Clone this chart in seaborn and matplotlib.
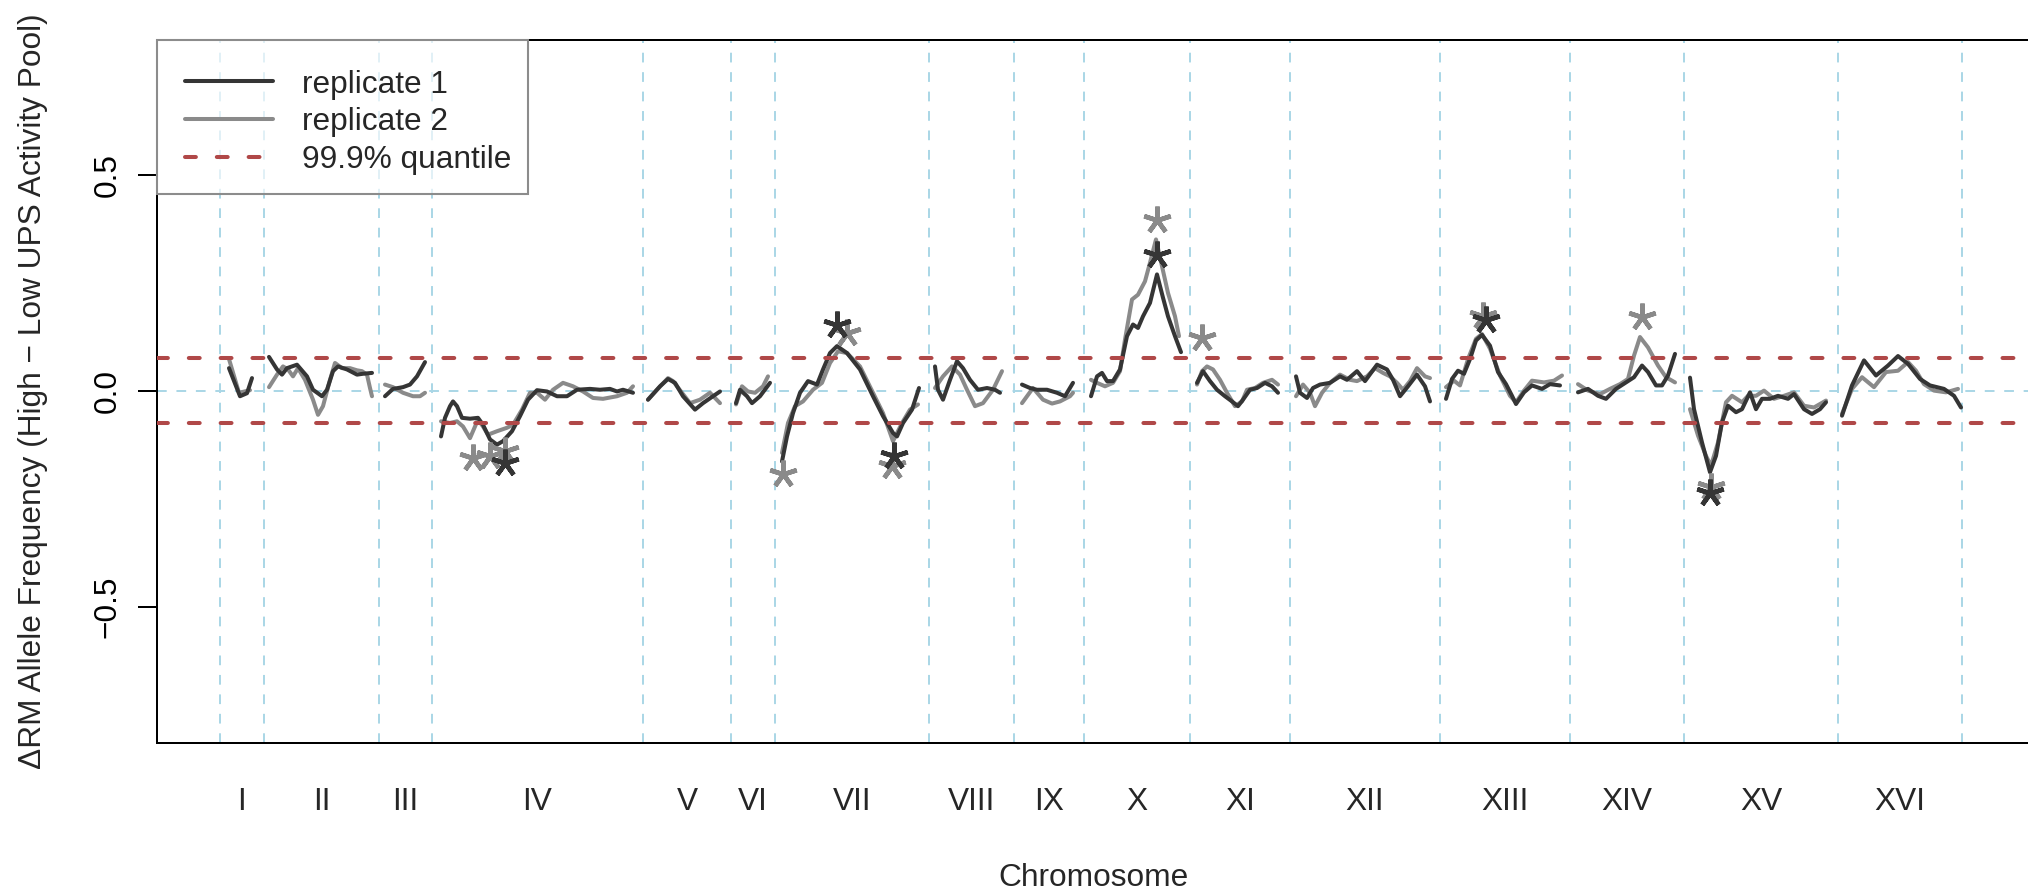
import matplotlib
matplotlib.use("Agg")
import matplotlib.pyplot as plt
from matplotlib.lines import Line2D
from matplotlib.patches import Rectangle
import pandas as pd
import seaborn as sns

# chromosome layout (genome position, same units as the curve positions)
chrom_names = ['I', 'II', 'III', 'IV', 'V', 'VI', 'VII', 'VIII', 'IX', 'X',
               'XI', 'XII', 'XIII', 'XIV', 'XV', 'XVI']
chrom_edges = [220, 264, 379, 432, 643, 731, 775, 929, 1014, 1084, 1190,
               1290, 1440, 1570, 1684, 1838, 1962]
quantile = 0.076

# replicate 1 (dark) -- positions and delta allele frequency per chromosome
rep1_pos = {
    'I': [229, 240, 247, 252],
    'II': [269, 277, 282, 287, 292, 297, 307, 313, 322, 327, 333, 338, 347, 357, 363, 372],
    'III': [385, 393, 403, 410, 417, 425],
    'IV': [441, 445, 450, 453, 457, 462, 470, 478, 483, 490, 497, 503, 512, 520, 528,
           537, 547, 557, 567, 577, 590, 600, 610, 617, 623, 633],
    'V': [648, 660, 668, 675, 683, 695, 703, 713, 720],
    'VI': [736, 740, 747, 752, 760, 770],
    'VII': [782, 787, 793, 800, 808, 817, 823, 830, 837, 847, 860, 873, 883, 893, 897,
            903, 912, 919],
    'VIII': [935, 938, 943, 950, 957, 963, 970, 978, 987, 995, 1000],
    'IX': [1022, 1030, 1037, 1047, 1057, 1065, 1073],
    'X': [1091, 1097, 1102, 1107, 1113, 1120, 1127, 1133, 1138, 1143, 1150, 1157, 1163,
          1168, 1175, 1181],
    'XI': [1197, 1203, 1210, 1217, 1225, 1232, 1238, 1243, 1250, 1257, 1265, 1272, 1278],
    'XII': [1296, 1300, 1307, 1313, 1320, 1330, 1340, 1347, 1357, 1365, 1377, 1387, 1393,
            1400, 1408, 1417, 1425, 1430],
    'XIII': [1446, 1452, 1458, 1464, 1470, 1476, 1482, 1490, 1498, 1506, 1512, 1516, 1524,
             1532, 1542, 1550, 1560],
    'XIV': [1578, 1588, 1598, 1606, 1616, 1626, 1634, 1642, 1648, 1656, 1662, 1668, 1675],
    'XV': [1690, 1694, 1702, 1710, 1716, 1722, 1728, 1736, 1742, 1750, 1756, 1762, 1770,
           1778, 1788, 1794, 1804, 1812, 1820, 1826],
    'XVI': [1842, 1852, 1864, 1876, 1888, 1898, 1908, 1920, 1930, 1944, 1954, 1961],
}
rep1_val = {
    'I': [0.052, -0.013, -0.006, 0.029],
    'II': [0.078, 0.049, 0.037, 0.052, 0.056, 0.060, 0.033, 0.002, -0.013, 0.002, 0.045,
           0.056, 0.049, 0.037, 0.039, 0.041],
    'III': [-0.013, 0.004, 0.008, 0.014, 0.033, 0.066],
    'IV': [-0.106, -0.063, -0.036, -0.025, -0.036, -0.063, -0.065, -0.063, -0.079, -0.113,
           -0.125, -0.117, -0.094, -0.059, -0.021, 0.001, -0.002, -0.013, -0.013, 0.002,
           0.004, 0.002, 0.004, -0.002, 0.002, -0.005],
    'V': [-0.021, 0.010, 0.027, 0.018, -0.013, -0.044, -0.029, -0.013, -0.002],
    'VI': [-0.029, 0.002, -0.013, -0.029, -0.013, 0.018],
    'VII': [-0.164, -0.106, -0.052, -0.005, 0.022, 0.014, 0.049, 0.087, 0.103, 0.087,
            0.049, -0.013, -0.059, -0.098, -0.106, -0.075, -0.044, 0.006],
    'VIII': [0.056, 0.002, -0.021, 0.025, 0.068, 0.052, 0.025, 0.002, 0.006, 0.002, -0.005],
    'IX': [0.014, 0.006, 0.002, 0.002, -0.005, -0.013, 0.018],
    'X': [-0.013, 0.033, 0.041, 0.022, 0.022, 0.049, 0.126, 0.153, 0.145, 0.172, 0.203,
          0.269, 0.215, 0.172, 0.126, 0.089],
    'XI': [0.018, 0.045, 0.022, 0.002, -0.013, -0.025, -0.036, -0.021, 0.002, 0.006,
           0.018, 0.010, -0.005],
    'XII': [0.033, -0.005, -0.017, 0.006, 0.014, 0.018, 0.033, 0.025, 0.045, 0.022, 0.060,
            0.049, 0.025, -0.013, 0.010, 0.037, 0.010, -0.025],
    'XIII': [-0.019, 0.027, 0.046, 0.039, 0.073, 0.116, 0.129, 0.104, 0.043, 0.015, -0.012,
             -0.031, -0.004, 0.012, 0.004, 0.015, 0.012],
    'XIV': [-0.004, 0.004, -0.012, -0.019, 0.004, 0.019, 0.031, 0.058, 0.043, 0.012,
            0.012, 0.035, 0.085],
    'XV': [0.030, -0.043, -0.120, -0.189, -0.151, -0.073, -0.035, -0.050, -0.043, -0.004,
           -0.043, -0.019, -0.019, -0.012, -0.019, -0.008, -0.043, -0.054, -0.043, -0.027],
    'XVI': [-0.058, 0.012, 0.070, 0.035, 0.058, 0.080, 0.062, 0.027, 0.012, 0.004, -0.012,
            -0.039],
}

# replicate 2 (grey)
rep2_pos = {
    'I': [229, 239, 250],
    'II': [269, 277, 283, 288, 293, 298, 305, 313, 318, 323, 330, 335, 342, 350, 357, 362,
           367, 370, 372],
    'III': [385, 393, 403, 413, 420, 425],
    'IV': [441, 450, 457, 463, 470, 478, 483, 488, 497, 507, 513, 522, 530, 537, 545, 553,
           563, 573, 583, 593, 603, 617, 627, 633],
    'V': [648, 657, 668, 673, 682, 690, 700, 710, 720],
    'VI': [736, 742, 748, 755, 763, 768],
    'VII': [782, 788, 795, 803, 813, 822, 830, 838, 847, 860, 873, 883, 893, 902, 910, 918],
    'VIII': [935, 943, 952, 960, 967, 975, 983, 993, 1002],
    'IX': [1022, 1033, 1043, 1052, 1060, 1070, 1073],
    'X': [1091, 1097, 1105, 1113, 1120, 1125, 1132, 1138, 1145, 1150, 1156, 1162, 1168,
          1175, 1179],
    'XI': [1197, 1202, 1207, 1213, 1220, 1227, 1235, 1242, 1247, 1255, 1263, 1272, 1278],
    'XII': [1296, 1303, 1310, 1315, 1322, 1330, 1340, 1350, 1357, 1367, 1375, 1383, 1390,
            1397, 1403, 1410, 1417, 1425, 1430],
    'XIII': [1446, 1454, 1460, 1468, 1476, 1482, 1490, 1500, 1510, 1516, 1524, 1532, 1544,
             1554, 1562],
    'XIV': [1578, 1588, 1600, 1610, 1620, 1628, 1634, 1640, 1648, 1658, 1666, 1675],
    'XV': [1690, 1698, 1706, 1711, 1718, 1726, 1732, 1742, 1748, 1756, 1764, 1774, 1784,
           1794, 1804, 1814, 1826],
    'XVI': [1842, 1852, 1862, 1874, 1886, 1898, 1908, 1916, 1924, 1934, 1946, 1958],
}
rep2_val = {
    'I': [0.073, -0.005, 0.001],
    'II': [0.008, 0.037, 0.056, 0.049, 0.033, 0.052, 0.025, -0.021, -0.056, -0.036, 0.025,
           0.064, 0.052, 0.052, 0.047, 0.045, 0.037, 0.006, -0.013],
    'III': [0.014, 0.008, -0.005, -0.013, -0.013, -0.005],
    'IV': [-0.071, -0.075, -0.071, -0.083, -0.110, -0.067, -0.083, -0.102, -0.094, -0.086,
           -0.079, -0.044, -0.005, -0.005, -0.021, 0.002, 0.018, 0.010, -0.002, -0.017,
           -0.019, -0.013, -0.005, 0.010],
    'V': [-0.021, 0.002, 0.029, 0.022, -0.005, -0.029, -0.021, -0.005, -0.029],
    'VI': [-0.032, 0.010, -0.002, -0.005, 0.010, 0.033],
    'VII': [-0.144, -0.075, -0.036, -0.025, 0.002, 0.018, 0.064, 0.091, 0.087, 0.056,
            -0.005, -0.052, -0.117, -0.075, -0.044, -0.032],
    'VIII': [0.006, 0.033, 0.056, 0.037, 0.002, -0.036, -0.029, 0.002, 0.045],
    'IX': [-0.029, 0.006, -0.021, -0.030, -0.025, -0.013, -0.005],
    'X': [0.025, 0.018, 0.010, 0.018, 0.045, 0.118, 0.211, 0.222, 0.253, 0.296, 0.350,
          0.288, 0.226, 0.172, 0.126],
    'XI': [0.014, 0.045, 0.056, 0.049, 0.025, -0.005, -0.036, -0.025, 0.002, 0.006, 0.018,
           0.025, 0.014],
    'XII': [-0.013, 0.014, -0.005, -0.036, -0.005, 0.018, 0.037, 0.025, 0.022, 0.033,
            0.052, 0.041, 0.033, 0.018, 0.002, 0.022, 0.052, 0.033, 0.029],
    'XIII': [0.008, 0.023, 0.012, 0.073, 0.120, 0.131, 0.097, 0.035, -0.012, -0.027, 0.000,
             0.023, 0.019, 0.023, 0.035],
    'XIV': [0.015, 0.000, -0.008, 0.004, 0.015, 0.027, 0.081, 0.124, 0.100, 0.058, 0.031,
            0.019],
    'XV': [-0.043, -0.104, -0.151, -0.174, -0.120, -0.027, -0.012, -0.027, -0.012, -0.012,
           0.000, -0.019, -0.012, -0.004, -0.035, -0.039, -0.023],
    'XVI': [-0.054, 0.004, 0.031, 0.008, 0.043, 0.046, 0.066, 0.046, 0.015, 0.000, -0.004,
            0.004],
}

# significant peaks marked with asterisks
star_rep = ['replicate 2', 'replicate 2', 'replicate 2', 'replicate 1',
            'replicate 2', 'replicate 1', 'replicate 2', 'replicate 1', 'replicate 2',
            'replicate 2', 'replicate 1', 'replicate 2',
            'replicate 2', 'replicate 1', 'replicate 2', 'replicate 2', 'replicate 1']
star_pos = [473, 490, 505, 505,
            783, 837, 847, 894, 892,
            1157, 1157, 1202,
            1483, 1486, 1642, 1711, 1710]
star_val = [-0.156, -0.152, -0.140, -0.167,
            -0.192, 0.153, 0.133, -0.152, -0.175,
            0.396, 0.315, 0.122,
            0.172, 0.164, 0.170, -0.224, -0.236]

colors = {'replicate 1': '#353535', 'replicate 2': '#8a8a8a'}
red = '#b04848'
blue = '#a9d6e6'


def build_frame():
    rows = []
    for rep, pos, val in [('replicate 1', rep1_pos, rep1_val),
                          ('replicate 2', rep2_pos, rep2_val)]:
        for chrom in chrom_names:
            for p, v in zip(pos[chrom], val[chrom]):
                rows.append({'replicate': rep, 'chrom': chrom, 'pos': p, 'val': v})
    return pd.DataFrame(rows)


sns.set_style('ticks')
plt.rcParams['font.family'] = ['Liberation Sans', 'DejaVu Sans']

W, H = 2028, 894
FS = 22.8
fig = plt.figure(figsize=(W / 100, H / 100), dpi=100)
left, right, top, bottom = 156.7, 2048.3, 40, 742.7
ax = fig.add_axes([left / W, 1 - bottom / H, (right - left) / W, (bottom - top) / H])

df = build_frame()
for rep in ['replicate 2', 'replicate 1']:
    sns.lineplot(data=df[df['replicate'] == rep], x='pos', y='val', units='chrom',
                 estimator=None, sort=False, color=colors[rep], linewidth=2.9,
                 legend=False, ax=ax, zorder=3 if rep == 'replicate 1' else 2)

# chromosome boundaries and zero line
for e in chrom_edges:
    ax.axvline(e, color=blue, lw=1.4, ls=(0, (5, 5)), zorder=1)
ax.axhline(0, color=blue, lw=1.4, ls=(0, (5, 5)), zorder=1)

# quantile thresholds
for q in (quantile, -quantile):
    ax.axhline(q, color=red, lw=2.9, ls=(0, (2.7, 5.2)), dash_capstyle='round', zorder=4)

# asterisks
stars = pd.DataFrame({'pos': star_pos, 'val': star_val, 'rep': star_rep})
for rep in ['replicate 2', 'replicate 1']:
    sub = stars[stars['rep'] == rep]
    ax.plot(sub['pos'], sub['val'], ls='none', marker=(5, 2, 0), ms=20,
            mew=3.3, color=colors[rep], zorder=5)

ax.set_xlim(left, right)
ax.set_ylim(-0.815, 0.8116)

mids = [(a + b) / 2 for a, b in zip(chrom_edges[:-1], chrom_edges[1:])]
ax.set_xticks(mids)
ax.set_xticklabels(chrom_names, fontsize=FS)
ax.tick_params(axis='x', length=0, pad=32)
ax.set_yticks([-0.5, 0.0, 0.5])
ax.set_yticklabels(['\u22120.5', '0.0', '0.5'], fontsize=FS, rotation=90, va='center')
ax.tick_params(axis='y', length=13.7, width=1.44, pad=11, colors='black')
ax.set_xlabel('')
ax.set_ylabel('')

for side in ['left', 'bottom', 'top']:
    ax.spines[side].set_linewidth(1.44)
    ax.spines[side].set_color('black')
ax.spines['right'].set_visible(False)

fig.text(1093 / W, 1 - 878 / H, 'Chromosome', ha='center', va='center', fontsize=FS)
fig.text(33 / W, 1 - 391 / H, '\u0394RM Allele Frequency (High \u2212 Low UPS Activity Pool)',
         ha='center', va='center', rotation=90, fontsize=FS)

# legend box
box_w = (528 - left) / (right - left)
box_h = (194 - top) / (bottom - top)
ax.add_patch(Rectangle((0, 1 - box_h), box_w, box_h, transform=ax.transAxes,
                       facecolor=(1, 1, 1, 0.65), edgecolor='#8c8c8c', lw=1.5,
                       zorder=6, clip_on=False))
handles = [Line2D([], [], color=colors['replicate 1'], lw=2.9),
           Line2D([], [], color=colors['replicate 2'], lw=2.9),
           Line2D([], [], color=red, lw=2.9, ls=(0, (2.7, 5.2)), dash_capstyle='round')]
leg = ax.legend(handles, ['replicate 1', 'replicate 2', '99.9% quantile'],
                loc='upper left', bbox_to_anchor=((185 - left) / (right - left), 0.958),
                frameon=False, fontsize=FS, handlelength=2.78, handletextpad=0.91,
                labelspacing=0.24, borderpad=0, borderaxespad=0)
leg.set_zorder(7)

fig.savefig('out.png', dpi=100)
plt.close(fig)
